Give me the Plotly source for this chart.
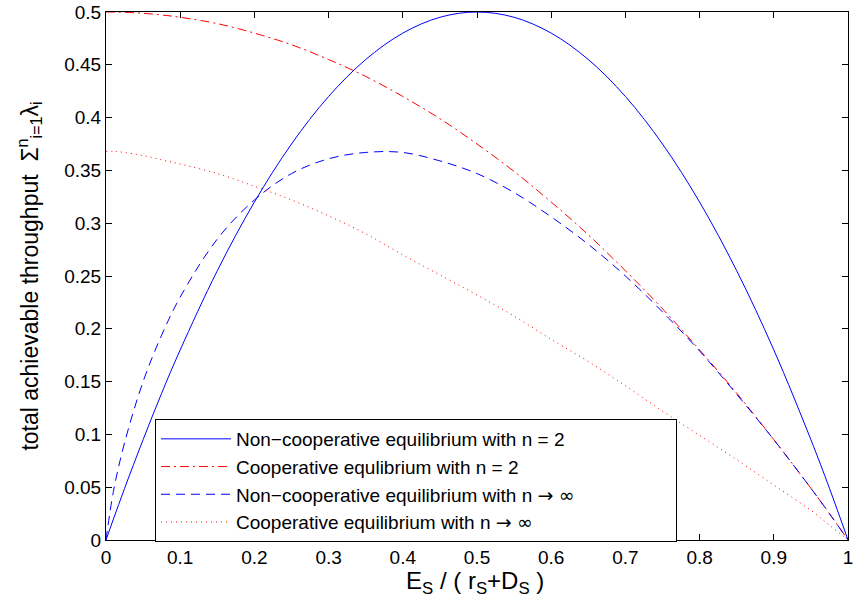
import plotly.graph_objects as go

# x positions (E_S / (r_S + D_S))
x_vals = [0, 0.01, 0.025, 0.05, 0.075, 0.1, 0.15, 0.2, 0.25, 0.3, 0.35, 0.4, 0.45,
          0.5, 0.55, 0.6, 0.65, 0.7, 0.75, 0.8, 0.85, 0.9, 0.95, 0.975, 1.0]

# values
noncoop_n2 = [0, 0.0198, 0.0488, 0.095, 0.139, 0.18, 0.255, 0.32, 0.375, 0.42, 0.455,
              0.48, 0.495, 0.5, 0.495, 0.48, 0.455, 0.42, 0.375, 0.32, 0.255, 0.18,
              0.095, 0.049, 0]
coop_n2 = [0.5, 0.4999, 0.4997, 0.4988, 0.4972, 0.495, 0.489, 0.48, 0.469, 0.455, 0.439,
           0.42, 0.399, 0.375, 0.349, 0.32, 0.289, 0.255, 0.219, 0.18, 0.139, 0.095,
           0.049, 0.025, 0]
noncoop_inf = [0, 0.046, 0.092, 0.150, 0.194, 0.230, 0.285, 0.322, 0.347, 0.361, 0.367,
               0.367, 0.359, 0.347, 0.329, 0.306, 0.280, 0.250, 0.216, 0.179, 0.138,
               0.095, 0.049, 0.025, 0]
coop_inf = [0.368, 0.368, 0.367, 0.364, 0.360, 0.356, 0.347, 0.335, 0.322, 0.307, 0.290,
            0.270, 0.251, 0.232, 0.212, 0.190, 0.169, 0.146, 0.122, 0.099, 0.076,
            0.052, 0.028, 0.014, 0]

x_ticks = [0, 0.1, 0.2, 0.3, 0.4, 0.5, 0.6, 0.7, 0.8, 0.9, 1]
x_tick_text = ["0", "0.1", "0.2", "0.3", "0.4", "0.5", "0.6", "0.7", "0.8", "0.9", "1"]
y_ticks = [0, 0.05, 0.1, 0.15, 0.2, 0.25, 0.3, 0.35, 0.4, 0.45, 0.5]
y_tick_text = ["0", "0.05", "0.1", "0.15", "0.2", "0.25", "0.3", "0.35", "0.4", "0.45", "0.5"]

x_title = "E<sub>S</sub> / ( r<sub>S</sub>+D<sub>S</sub> )"
y_title = "total achievable throughput  \u03a3<sup>n</sup><sub>i=1</sub>\u03bb<sub>i</sub>"

ARROW = "<span style='font-family:DejaVu Sans'>\u2192</span>"
INF = "<span style='font-family:DejaVu Sans'>\u221e</span>"
PAD = "\u00a0" * 19 + "<span style='color:white'>.</span>"
names = [
    "Non\u2212cooperative equilibrium with n = 2" + PAD,
    "Cooperative equlibrium with n = 2",
    "Non\u2212cooperative equilibrium with n " + ARROW + " " + INF,
    "Cooperative equilibrium with n " + ARROW + " " + INF,
]

FONT = "Liberation Sans, Arial, Helvetica, sans-serif"
BLUE = "#0000ff"
RED = "#ff0000"

ML, MR, MT, MB = 106, 6, 12, 64
PLOT_W = 854 - ML - MR
PLOT_H = 604 - MT - MB
BOTTOM = 604 - MB

fig = go.Figure()
fig.add_trace(go.Scatter(x=x_vals, y=noncoop_n2, mode="lines", name=names[0],
                         line=dict(color=BLUE, width=1, shape="spline", smoothing=1.0)))
fig.add_trace(go.Scatter(x=x_vals, y=coop_n2, mode="lines", name=names[1],
                         line=dict(color=RED, width=1, dash="9px,4px,2px,4px",
                                   shape="spline", smoothing=1.0)))
fig.add_trace(go.Scatter(x=x_vals, y=noncoop_inf, mode="lines", name=names[2],
                         line=dict(color=BLUE, width=1, dash="9px,6px",
                                   shape="spline", smoothing=1.0)))
fig.add_trace(go.Scatter(x=x_vals, y=coop_inf, mode="lines", name=names[3],
                         line=dict(color=RED, width=1, dash="1px,4px",
                                   shape="spline", smoothing=1.0)))

axis_common = dict(
    showline=True, linecolor="black", linewidth=1, mirror="ticks",
    ticks="inside", ticklen=6, tickcolor="black", tickwidth=1,
    showgrid=False, zeroline=False, ticklabeloverflow="allow", automargin=False,
    tickfont=dict(family=FONT, size=19, color="black"),
)

fig.update_xaxes(range=[0, 1], tickvals=x_ticks, ticktext=x_tick_text, **axis_common)
fig.update_yaxes(range=[0, 0.5], tickvals=y_ticks, ticktext=y_tick_text,
                 title=dict(text=y_title,
                            font=dict(family=FONT, size=23, color="black"), standoff=19),
                 **axis_common)

fig.add_annotation(text=x_title, xref="paper", yref="paper",
                   x=(404 - ML) / PLOT_W, y=-(565 - BOTTOM) / PLOT_H,
                   xanchor="left", yanchor="top", showarrow=False,
                   font=dict(family=FONT, size=24, color="black"))

fig.update_layout(
    width=854, height=604,
    margin=dict(l=ML, r=MR, t=MT, b=MB, autoexpand=False),
    paper_bgcolor="white", plot_bgcolor="white",
    showlegend=True,
    legend=dict(x=(155 - ML) / PLOT_W, y=(BOTTOM - 419) / PLOT_H,
                xanchor="left", yanchor="top",
                bgcolor="white", bordercolor="black", borderwidth=1,
                font=dict(family=FONT, size=19, color="black"),
                itemwidth=70, tracegroupgap=0),
)

fig.write_html("out.html")
